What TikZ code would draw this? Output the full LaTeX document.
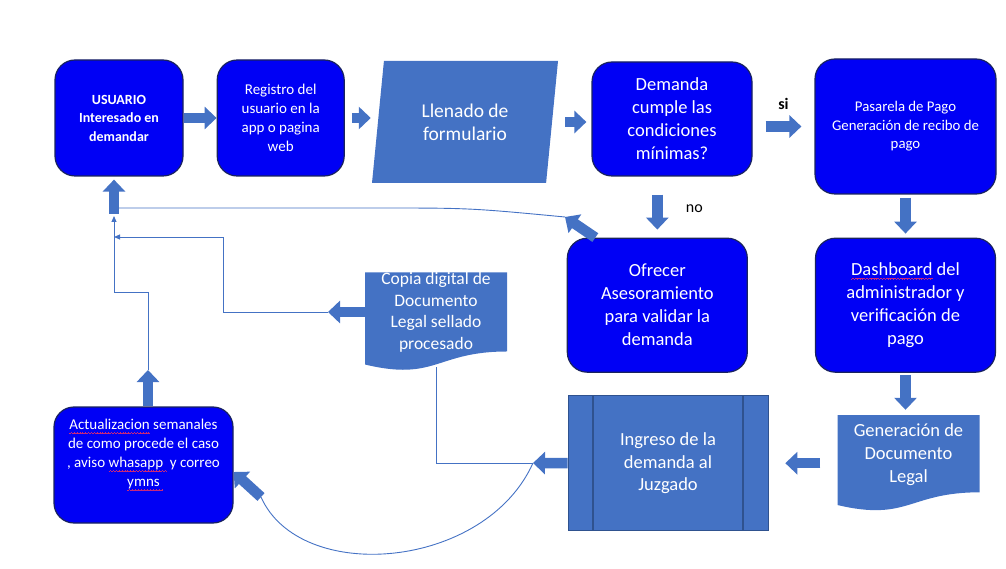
\documentclass[tikz,border=0pt]{standalone}
\usepackage{fontspec}
\setmainfont{Carlito}
\usepackage{xcolor}
\definecolor{boxblue}{RGB}{0,0,245}
\definecolor{boxedge}{RGB}{25,35,95}
\definecolor{officeblue}{RGB}{68,114,196}
\definecolor{officedark}{RGB}{47,82,143}
\definecolor{spellred}{RGB}{200,40,120}
\usepackage{tikz}
\usetikzlibrary{arrows.meta}
\usetikzlibrary{positioning,shapes.geometric,calc}
\tikzstyle{flowbox} = [rectangle, rounded corners=20pt, fill=boxblue, draw=boxedge, line width=1.2pt, text=white, align=center, inner sep=3pt]
\tikzstyle{inputbox} = [trapezium, trapezium left angle=72, trapezium right angle=108, trapezium stretches body, minimum width=186pt, minimum height=122pt, inner sep=0pt, fill=officeblue, text=white, align=center]
\tikzstyle{docbox} = [rectangle, inner sep=0pt, minimum width=142pt, text=white, align=center,
  path picture={
    \coordinate (pnw) at (path picture bounding box.north west);
    \coordinate (pse) at (path picture bounding box.south east);
    \coordinate (pne) at (pnw -| pse);
    \coordinate (psw) at (pnw |- pse);
    \coordinate (ptm) at ($(pnw)!0.5!(pne)$);
    \coordinate (pbm) at ($(psw)!0.5!(pse)$);
    \fill[officeblue] (pnw) -- (pne) -- ($(pne)!0.802!(pse)$)
      .. controls ($(ptm)!0.802!(pbm)$) and ($(ptm)!1.107!(pbm)$) .. ($(pnw)!0.934!(psw)$) -- cycle;
  }]
\tikzstyle{juzgadobox} = [rectangle, fill=officeblue, draw=officedark, line width=0.6pt, text=white, align=center,
  path picture={
    \draw[officedark, line width=1.2pt] ([xshift=25pt]path picture bounding box.north west) -- ([xshift=25pt]path picture bounding box.south west);
    \draw[officedark, line width=1.2pt] ([xshift=-25pt]path picture bounding box.north east) -- ([xshift=-25pt]path picture bounding box.south east);
  }]
\tikzstyle{flowarrow} = [draw=officeblue, line width=10.5pt, -{Triangle[length=12pt,width=22pt]}]
\tikzstyle{thinline} = [draw=officeblue, line width=0.9pt]
\tikzstyle{thinarrow} = [thinline, -{Triangle[length=6pt,width=5pt]}]
\tikzstyle{answer} = [text=black, font=\fontsize{16}{19}\selectfont]

% wavy spell-check mark under a word
\newcommand{\spellwave}{\hbox{\rule[-3.9pt]{0.7pt}{0.6pt}\rule[-3.4pt]{0.7pt}{0.6pt}\rule[-2.9pt]{0.7pt}{0.6pt}\rule[-3.4pt]{0.7pt}{0.6pt}}}
\newcommand{\spellmark}[1]{\setbox0\hbox{#1}\rlap{\hbox to \wd0{\color{spellred}\xleaders\spellwave\hfil}}#1}

\begin{document}
\begin{tikzpicture}[x=1pt, y=1pt]
      \useasboundingbox (0,0) rectangle (1006,568);

      % Top row
      \node[flowbox, minimum width=128pt, minimum height=116pt, font=\bfseries\fontsize{14}{18.5}\selectfont] (usuario) at (119,450) {USUARIO\\Interesado en\\demandar};
      \node[flowbox, minimum width=127pt, minimum height=116pt, font=\fontsize{15}{19}\selectfont] (registro) [right=33pt of usuario] {Registro del\\usuario en la\\app o pagina\\web};
      \node[inputbox, font=\fontsize{19.5}{23}\selectfont] (llenado) at (465,446) {Llenado de\\formulario};
      \node[flowbox, minimum width=160pt, minimum height=114pt, font=\fontsize{18.5}{23}\selectfont] (demanda) at (672,449) {Demanda\\cumple las\\condiciones\\mínimas?};
      \node[flowbox, minimum width=181pt, minimum height=135pt, font=\fontsize{14.8}{18.5}\selectfont] (pasarela) at (905.5,441.5) {Pasarela de Pago\\Generación de recibo de\\pago};

      % Middle row
      \node[flowbox, minimum width=180pt, minimum height=134pt, font=\fontsize{18.5}{23}\selectfont] (dashboard) [below=43pt of pasarela] {\spellmark{Dashboard} del\\administrador y\\verificación de\\pago};
      \node[flowbox, minimum width=180pt, minimum height=134pt, font=\fontsize{18.5}{23}\selectfont] (ofrecer) [left=67pt of dashboard] {Ofrecer\\Asesoramiento\\para validar la\\demanda};
      \node[docbox, minimum height=97.4pt, text depth=22pt, font=\fontsize{17.5}{21.5}\selectfont] (copia) at (436,246.3) {Copia digital de\\Documento\\Legal sellado\\procesado};

      % Bottom row
      \node[docbox, minimum height=96.4pt, text depth=20pt, font=\fontsize{18.5}{23}\selectfont] (generacion) [below=42pt of dashboard, xshift=3pt] {Generación de\\Documento\\Legal};
      \node[juzgadobox, minimum width=200pt, minimum height=135pt, font=\fontsize{18.5}{22.5}\selectfont] (ingreso) [left=69pt of generacion] {Ingreso de la\\demanda al\\Juzgado};
      \node[flowbox, minimum width=179pt, minimum height=116pt, text depth=24pt, font=\fontsize{15}{19}\selectfont] (actual) at (143.5,103) {\spellmark{Actualizacion} semanales\\de como procede el caso\\, aviso \spellmark{whasapp\ }\ y correo\\\spellmark{ymns\ }};

      % Free ends
      \coordinate (usrbase) at (114,354);
      \coordinate (acttip) at (148,198);
      \coordinate (elbow) at (114,276);
      \coordinate (copiatip) at (328,256);
      \coordinate (copiaelbow) at (223,331);
      \coordinate (ingtip) at (533,105);
      \coordinate (curveend) at (261,71);
      \coordinate (ofrtip) at (565,351);
      \coordinate (bend) at (376,360);

      % Thin connectors
      \draw[thinline] (ofrtip) .. controls (470,360) .. (bend) -- (bend -| usrbase);
      \draw[thinarrow, shorten >=2pt] (acttip) |- (elbow) -- (usrbase);
      \draw[thinarrow] (copiatip) -| (copiaelbow) -- (copiaelbow -| usrbase);
      \draw[thinline] ([yshift=4pt]copia.south) |- (ingtip);
      \draw[thinline] (ingtip) .. controls (485,-2) and (300,-17) .. (curveend);

      % Block arrows
      \draw[flowarrow] (usuario.east) -- (registro.west);
      \draw[flowarrow, shorten <=7pt, shorten >=7pt] (registro.east) -- (registro.east -| llenado.west);
      \draw[flowarrow, shorten <=13pt, shorten >=5pt] (llenado.east) -- (llenado.east -| demanda.west);
      \draw[flowarrow, shorten <=13pt, shorten >=13pt] (demanda.east |- pasarela.west) -- (pasarela.west)
            node[answer, midway, above=8pt, font=\bfseries\fontsize{16}{19}\selectfont] (si) {si};
      \draw[flowarrow, shorten <=18pt, shorten >=8pt] (demanda.south -| ofrecer.north) -- (ofrecer.north)
            node[answer, midway, right=20pt, yshift=-2pt] (no) {no};
      \draw[flowarrow, shorten <=3pt, shorten >=4pt] (pasarela.south) -- (dashboard.north);
      \draw[flowarrow, shorten <=2pt, shorten >=5pt] (dashboard.south) -- (dashboard.south |- generacion.north);
      \draw[flowarrow, shorten <=17pt, shorten >=17pt] (generacion.west) -- (ingreso.east);
      \draw[flowarrow] (ingreso.west) -- (ingtip);
      \draw[flowarrow] (copiatip -| copia.west) -- (copiatip);
      \draw[flowarrow] ([xshift=-62pt]ofrecer.north) -- (ofrtip);
      \draw[flowarrow] (curveend) -- ([yshift=-7pt]actual.east);
      \draw[flowarrow] (acttip |- actual.north) -- (acttip);
      \draw[flowarrow, shorten >=3pt] (usrbase) -- (usrbase |- usuario.south);

    \end{tikzpicture}
\end{document}
